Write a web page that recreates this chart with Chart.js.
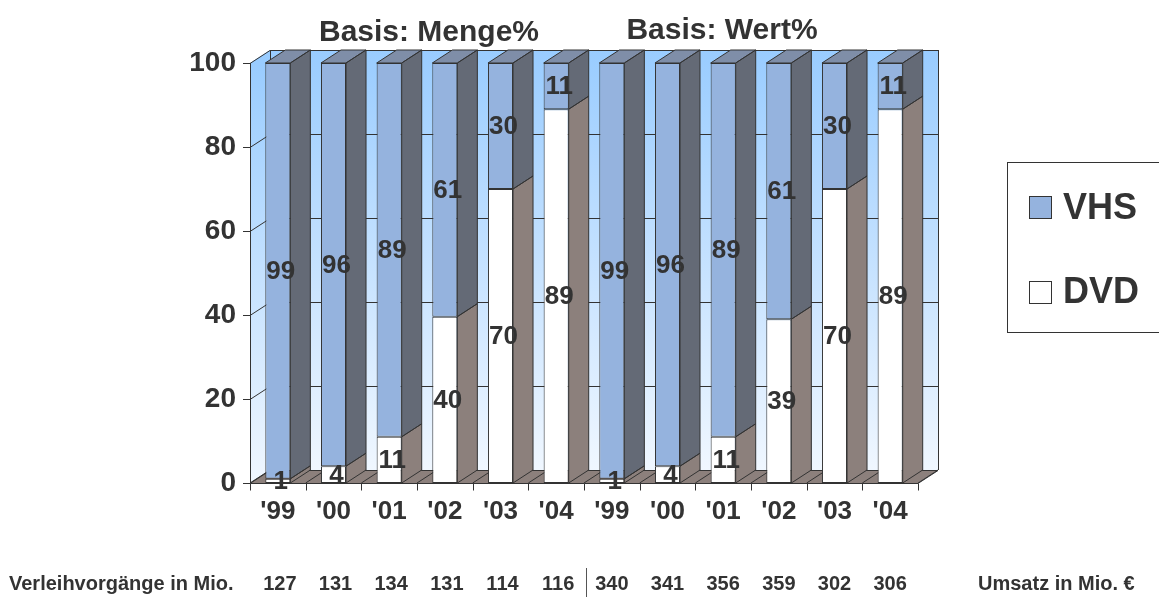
<!DOCTYPE html>
<html>
<head>
<meta charset="utf-8">
<title>VHS / DVD</title>
<script src="https://cdn.jsdelivr.net/npm/chart.js@4.4.1/dist/chart.umd.min.js"></script>
<style>
  html, body { margin: 0; padding: 0; background: #ffffff; }
  #wrap { width: 1159px; height: 597px; position: relative; }
  canvas { display: block; }
</style>
</head>
<body>
<div id="wrap"><canvas id="chart" width="1159" height="597" style="width:1159px;height:597px"></canvas></div>
<script>
// Years, twice: left block = volume share, right block = value share
const categories = ["'99", "'00", "'01", "'02", "'03", "'04", "'99", "'00", "'01", "'02", "'03", "'04"];
const dvdValues = [1, 4, 11, 40, 70, 89, 1, 4, 11, 39, 70, 89];
const vhsValues = [99, 96, 89, 61, 30, 11, 99, 96, 89, 61, 30, 11];
const yTicks = [0, 20, 40, 60, 80, 100];
const blockTitles = ['Basis: Menge%', 'Basis: Wert%'];
const rentals = [127, 131, 134, 131, 114, 116];      // Verleihvorgänge in Mio.
const revenue = [340, 341, 356, 359, 302, 306];      // Umsatz in Mio. €
const rentalsCaption = 'Verleihvorgänge in Mio.';
const revenueCaption = 'Umsatz in Mio. €';

const FONT = '"Liberation Sans", Arial, Helvetica, sans-serif';
const INK = '#333333';
const DX = 20, DY = -13;   // depth offset of the 3D box

// 100 % stacking: each column is normalised to its own total
const totals = dvdValues.map((v, i) => v + vhsValues[i]);
const dvdShare = dvdValues.map((v, i) => v / totals[i] * 100);
const vhsShare = vhsValues.map((v, i) => v / totals[i] * 100);

function poly(ctx, pts) {
  ctx.beginPath();
  ctx.moveTo(pts[0][0], pts[0][1]);
  for (let i = 1; i < pts.length; i++) ctx.lineTo(pts[i][0], pts[i][1]);
  ctx.closePath();
}
function line(ctx, x1, y1, x2, y2) {
  ctx.beginPath();
  ctx.moveTo(x1, y1);
  ctx.lineTo(x2, y2);
  ctx.stroke();
}

const box3d = {
  id: 'box3d',
  beforeDatasetsDraw(chart) {
    const { ctx, chartArea: { left, right, top, bottom }, scales: { x, y } } = chart;
    const n = x.ticks.length;
    const step = (right - left) / n;
    ctx.save();

    // back wall
    const gBack = ctx.createLinearGradient(0, top + DY, 0, bottom + DY);
    gBack.addColorStop(0, '#99CCFF');
    gBack.addColorStop(1, '#F0F7FF');
    ctx.fillStyle = gBack;
    ctx.fillRect(left + DX, top + DY, right - left, bottom - top);

    // side wall
    const gSide = ctx.createLinearGradient(0, top, 0, bottom);
    gSide.addColorStop(0, '#99CCFF');
    gSide.addColorStop(1, '#F0F7FF');
    ctx.fillStyle = gSide;
    poly(ctx, [[left, top], [left + DX, top + DY], [left + DX, bottom + DY], [left, bottom]]);
    ctx.fill();

    // floor
    ctx.fillStyle = '#8C807C';
    poly(ctx, [[left, bottom], [right, bottom], [right + DX, bottom + DY], [left + DX, bottom + DY]]);
    ctx.fill();

    ctx.strokeStyle = INK;
    ctx.lineWidth = 1;

    // value gridlines on side and back wall, plus tick marks
    y.ticks.forEach(t => {
      const py = Math.round(y.getPixelForValue(t.value)) + 0.5;
      ctx.beginPath();
      ctx.moveTo(left - 7, py);
      ctx.lineTo(left, py);
      ctx.lineTo(left + DX, py + DY);
      ctx.lineTo(right + DX, py + DY);
      ctx.stroke();
    });

    // back wall vertical edges
    line(ctx, Math.round(left + DX) + 0.5, top + DY, Math.round(left + DX) + 0.5, bottom + DY);
    line(ctx, Math.round(right + DX) + 0.5, top + DY, Math.round(right + DX) + 0.5, bottom + DY);

    // category lines across the floor
    for (let i = 0; i <= n; i++) {
      const bx = left + i * step;
      line(ctx, bx, bottom, bx + DX, bottom + DY);
    }
    ctx.restore();
  },

  afterDatasetsDraw(chart) {
    const { ctx, chartArea: { left, right, top, bottom }, scales: { x } } = chart;
    const sets = chart.data.datasets;
    const metas = sets.map((d, i) => chart.getDatasetMeta(i));
    const n = x.ticks.length;
    const step = (right - left) / n;
    ctx.save();
    ctx.lineWidth = 1;
    ctx.strokeStyle = INK;

    const faces = [];
    metas.forEach((meta, di) => {
      const ds = sets[di];
      meta.data.forEach(el => {
        const p = el.getProps(['x', 'y', 'base', 'width'], true);
        const l = p.x - p.width / 2, r = p.x + p.width / 2;
        faces.push({ color: ds.sideColor, pts: [[r, p.y], [r + DX, p.y + DY], [r + DX, p.base + DY], [r, p.base]] });
        if (di === metas.length - 1) {
          faces.push({ color: ds.topColor, pts: [[l, p.y], [r, p.y], [r + DX, p.y + DY], [l + DX, p.y + DY]] });
        }
      });
    });
    faces.forEach(f => { ctx.fillStyle = f.color; poly(ctx, f.pts); ctx.fill(); });
    faces.forEach(f => { poly(ctx, f.pts); ctx.stroke(); });

    // front edges of the box
    const by = Math.round(bottom) + 0.5;
    const lx = Math.round(left) + 0.5;
    ctx.beginPath();
    ctx.moveTo(lx, top);
    ctx.lineTo(lx, by);
    ctx.lineTo(right, by);
    ctx.lineTo(right + DX, by + DY);
    ctx.stroke();
    for (let i = 0; i <= n; i++) {
      const bx = Math.round(left + i * step) + 0.5;
      line(ctx, bx, by, bx, by + 7);
    }

    // value labels
    ctx.fillStyle = INK;
    ctx.font = 'bold 26px ' + FONT;
    ctx.textAlign = 'center';
    ctx.textBaseline = 'middle';
    metas.forEach((meta, di) => {
      const raw = sets[di].rawValues;
      meta.data.forEach((el, i) => {
        const p = el.getProps(['x', 'y', 'base'], true);
        ctx.fillText(String(raw[i]), p.x + 3, (p.y + p.base) / 2 + 1);
      });
    });
    ctx.restore();
  },

  afterDraw(chart) {
    const { ctx, chartArea: { left, right }, scales: { x } } = chart;
    const n = x.ticks.length;
    const step = (right - left) / n;
    ctx.save();
    ctx.fillStyle = INK;

    // block headings
    ctx.font = 'bold 30px ' + FONT;
    ctx.textAlign = 'center';
    ctx.textBaseline = 'alphabetic';
    ctx.fillText(blockTitles[0], 429, 41);
    ctx.fillText(blockTitles[1], 722, 39);

    // legend
    ctx.strokeStyle = INK;
    ctx.lineWidth = 1;
    ctx.fillStyle = '#ffffff';
    ctx.fillRect(1007.5, 162.5, 170, 170);
    ctx.strokeRect(1007.5, 162.5, 170, 170);
    const legendSets = chart.data.datasets.slice().reverse();
    const rows = [[196, 219], [281, 303]];
    legendSets.forEach((ds, k) => {
      const [sy, base] = rows[k];
      ctx.fillStyle = ds.backgroundColor;
      ctx.fillRect(1029.5, sy + 0.5, 22, 22);
      ctx.strokeStyle = INK;
      ctx.strokeRect(1029.5, sy + 0.5, 22, 22);
      ctx.fillStyle = INK;
      ctx.font = 'bold 36px ' + FONT;
      ctx.textAlign = 'left';
      ctx.fillText(ds.label, 1063, base);
    });

    // figures below the chart
    ctx.font = 'bold 20px ' + FONT;
    ctx.fillStyle = INK;
    ctx.textAlign = 'left';
    ctx.fillText(rentalsCaption, 9, 590);
    ctx.textAlign = 'center';
    rentals.forEach((v, i) => ctx.fillText(String(v), x.getPixelForValue(i) + 2, 590));
    revenue.forEach((v, i) => ctx.fillText(String(v), x.getPixelForValue(i + rentals.length), 590));
    ctx.textAlign = 'left';
    ctx.fillText(revenueCaption, 978, 590);

    const sx = Math.round(left + rentals.length * step) + 2.5;
    ctx.strokeStyle = '#555555';
    line(ctx, sx, 568, sx, 597);
    ctx.restore();
  }
};

new Chart(document.getElementById('chart'), {
  type: 'bar',
  data: {
    labels: categories,
    datasets: [
      {
        label: 'DVD',
        data: dvdShare,
        rawValues: dvdValues,
        backgroundColor: '#FFFFFF',
        sideColor: '#8C807C',
        topColor: '#D9D9D9',
        borderColor: INK,
        borderWidth: 1,
        borderSkipped: false
      },
      {
        label: 'VHS',
        data: vhsShare,
        rawValues: vhsValues,
        backgroundColor: '#95B3DE',
        sideColor: '#646A76',
        topColor: '#7F8EA8',
        borderColor: INK,
        borderWidth: 1,
        borderSkipped: false
      }
    ]
  },
  options: {
    responsive: false,
    animation: false,
    devicePixelRatio: 1,
    layout: { padding: { left: 0, top: 63, right: 241, bottom: 0 } },
    datasets: { bar: { categoryPercentage: 1, barPercentage: 0.45 } },
    plugins: { legend: { display: false }, tooltip: { enabled: false }, title: { display: false } },
    scales: {
      x: {
        stacked: true,
        grid: { display: false, drawTicks: false },
        border: { display: false },
        ticks: { font: { family: FONT, size: 26, weight: 'bold' }, color: INK, padding: 13, maxRotation: 0, autoSkip: false },
        afterFit(scale) { scale.height = 114; }
      },
      y: {
        stacked: true,
        min: 0,
        max: 100,
        grid: { display: false, drawTicks: false },
        border: { display: false },
        afterBuildTicks(scale) { scale.ticks = yTicks.map(v => ({ value: v })); },
        ticks: { font: { family: FONT, size: 28, weight: 'bold' }, color: INK, padding: 14 },
        afterFit(scale) { scale.width = 250; }
      }
    }
  },
  plugins: [box3d]
});
</script>
</body>
</html>
